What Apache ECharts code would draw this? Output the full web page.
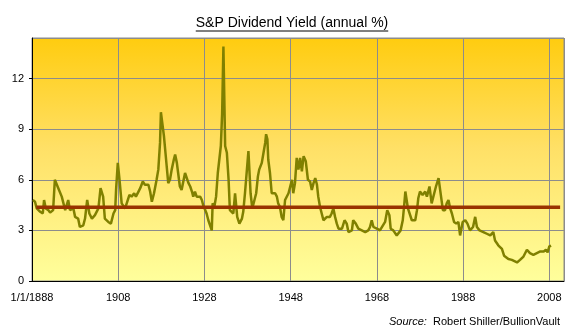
<!DOCTYPE html>
<html>
<head>
<meta charset="utf-8">
<script src="https://cdn.jsdelivr.net/npm/echarts@6/dist/echarts.min.js"></script>
<style>
  html, body { margin: 0; padding: 0; background: #fff; }
  #chart { width: 579px; height: 332px; }
</style>
</head>
<body>
<div id="chart"></div>
<script>
// S&P 500 dividend yield, annual %, by (fractional) year
const years = [
  1888.2, 1888.7, 1889.1, 1889.9, 1890.5, 1890.8, 1891.2, 1891.8, 1892.2, 1892.9,
  1893.3, 1894.1, 1894.9, 1895.3, 1895.7, 1896.1, 1896.4, 1896.8, 1897.6, 1898.0,
  1898.7, 1899.1, 1899.9, 1900.3, 1900.8, 1901.3, 1901.9, 1902.6, 1903.4, 1903.9,
  1904.5, 1904.9, 1905.7, 1906.3, 1906.9, 1907.3, 1907.5, 1907.9, 1908.3, 1908.8,
  1909.6, 1910.0, 1910.6, 1911.1, 1911.7, 1912.1, 1912.7, 1913.1, 1913.7, 1914.2,
  1915.0, 1915.4, 1915.8, 1916.3, 1916.9, 1917.3, 1917.7, 1917.9, 1918.3, 1918.6,
  1919.1, 1919.4, 1919.6, 1920.0, 1920.4, 1920.9, 1921.2, 1921.6, 1921.9, 1922.3,
  1922.7, 1923.1, 1923.5, 1923.9, 1924.3, 1924.7, 1925.1, 1925.4, 1925.8, 1926.2,
  1926.6, 1927.0, 1927.4, 1927.7, 1928.1, 1928.5, 1928.9, 1929.3, 1929.7, 1929.9,
  1930.3, 1930.7, 1931.1, 1931.5, 1931.8, 1932.1, 1932.4, 1932.6, 1932.8, 1933.2,
  1933.4, 1933.6, 1933.9, 1934.3, 1934.7, 1935.1, 1935.3, 1935.6, 1936.1, 1936.7,
  1937.0, 1937.4, 1937.8, 1938.2, 1938.4, 1938.7, 1939.1, 1939.5, 1940.0, 1940.4,
  1940.7, 1941.3, 1941.7, 1942.1, 1942.3, 1942.6, 1942.8, 1943.2, 1943.6, 1944.0,
  1944.4, 1944.8, 1945.1, 1945.5, 1945.9, 1946.3, 1946.7, 1947.1, 1947.5, 1947.9,
  1948.3, 1948.6, 1949.0, 1949.4, 1949.8, 1950.2, 1950.6, 1951.0, 1951.5, 1952.0,
  1952.5, 1952.9, 1953.3, 1953.7, 1954.1, 1954.4, 1954.8, 1955.2, 1955.6, 1956.4,
  1957.1, 1957.5, 1957.9, 1958.3, 1958.7, 1959.1, 1959.9, 1960.5, 1961.0, 1961.4,
  1962.2, 1962.5, 1963.1, 1963.7, 1964.5, 1965.3, 1966.0, 1966.4, 1966.8, 1967.2,
  1968.0, 1968.7, 1969.9, 1970.4, 1970.9, 1971.2, 1971.8, 1972.6, 1973.0, 1973.5,
  1974.0, 1974.3, 1974.6, 1974.9, 1975.2, 1975.5, 1976.1, 1976.9, 1977.3, 1977.6,
  1978.0, 1978.6, 1979.2, 1979.6, 1980.2, 1980.7, 1981.3, 1981.7, 1982.3, 1982.7,
  1983.1, 1983.3, 1983.8, 1984.2, 1984.6, 1985.0, 1985.4, 1985.9, 1986.4, 1986.9,
  1987.3, 1987.7, 1987.9, 1988.5, 1989.0, 1989.6, 1990.3, 1990.8, 1991.2, 1991.8,
  1992.7, 1993.5, 1994.3, 1995.0, 1995.4, 1996.2, 1997.0, 1997.5, 1998.5, 1999.3,
  2000.5, 2001.2, 2002.0, 2002.8, 2003.5, 2004.3, 2005.1, 2005.9, 2006.7, 2007.2,
  2007.6, 2008.0, 2008.4
];
const yields = [
  4.8, 4.7, 4.3, 4.1, 4.0, 4.8, 4.3, 4.2, 4.05, 4.2,
  6.0, 5.5, 5.0, 4.9, 4.2, 4.3, 4.8, 4.2, 4.3, 3.8,
  3.7, 3.2, 3.3, 3.7, 4.8, 4.0, 3.7, 3.9, 4.3, 5.5,
  5.0, 3.7, 3.5, 3.4, 4.0, 4.2, 5.4, 7.0, 6.0, 4.6,
  4.3, 4.3, 5.1, 5.0, 5.2, 5.0, 5.3, 5.5, 5.9, 5.7,
  5.7, 5.3, 4.7, 5.2, 6.0, 6.6, 8.2, 10.0, 9.9, 8.6,
  7.2, 7.1, 5.8, 6.0, 6.6, 7.2, 7.5, 7.0, 6.4, 5.6,
  5.4, 5.5, 6.4, 6.4, 5.8, 5.6, 5.3, 5.0, 5.3, 5.0,
  5.05, 5.0, 4.8, 4.5, 4.4, 4.0, 3.6, 3.5, 3.0, 4.6,
  4.4, 5.0, 6.4, 6.3, 8.0, 9.9, 13.9, 13.9, 8.0, 7.6,
  7.7, 6.0, 4.2, 4.3, 4.0, 5.2, 5.3, 3.8, 3.4, 3.7,
  4.1, 5.2, 5.3, 7.7, 7.8, 5.2, 4.3, 4.4, 5.2, 6.2,
  6.6, 7.0, 7.6, 8.2, 8.7, 8.4, 7.2, 6.4, 5.2, 5.3,
  5.2, 5.0, 4.6, 4.4, 3.8, 3.6, 4.8, 4.8, 5.2, 5.6,
  6.0, 5.2, 5.8, 7.3, 6.6, 7.3, 6.5, 7.4, 7.1, 6.0,
  5.9, 5.4, 5.8, 6.1, 5.7, 5.0, 4.4, 4.0, 3.6, 3.8,
  3.8, 4.0, 4.3, 3.8, 3.4, 3.1, 3.1, 3.6, 3.4, 2.9,
  3.0, 3.6, 3.4, 3.1, 3.0, 2.9, 3.0, 3.2, 3.6, 3.2,
  3.1, 3.0, 3.5, 4.2, 3.9, 3.1, 3.0, 2.7, 2.67, 3.0,
  3.6, 4.4, 5.3, 5.2, 4.3, 4.2, 3.6, 3.6, 4.2, 4.9,
  5.3, 5.1, 5.3, 5.0, 5.6, 4.6, 5.2, 5.6, 6.1, 6.0,
  4.6, 4.2, 4.2, 4.6, 4.8, 4.3, 4.0, 3.5, 3.4, 3.5,
  2.7, 2.6, 3.5, 3.6, 3.4, 3.0, 3.2, 3.8, 3.2, 3.0,
  2.9, 2.8, 2.7, 2.9, 2.4, 2.1, 1.9, 1.5, 1.3, 1.25,
  1.1, 1.25, 1.45, 1.85, 1.65, 1.55, 1.65, 1.75, 1.75, 1.85,
  1.7, 2.05, 2.1
];

// Long-run average yield, drawn as a flat reference line
const averageYield = 4.37;
const averageSpan = [1889.0, 2010.5];

// Axis ranges and tick labels
const xRange = [1888, 2011.4];
const xTickYears = [1888, 1908, 1928, 1948, 1968, 1988, 2008];
const firstTickLabel = '1/1/1888';
const yRange = [0, 14.4];
const yTickValues = [0, 3, 6, 9, 12];

const titleText = 'S&P Dividend Yield (annual %)';
const FONT = '"Liberation Sans", Arial, sans-serif';
const TITLE_FONT_SIZE = 14;

const chart = echarts.init(document.getElementById('chart'), null, { renderer: 'canvas' });

// title width, used for its underline
const titleWidth = echarts.format.getTextRect
  ? echarts.format.getTextRect(titleText, TITLE_FONT_SIZE + 'px ' + FONT).width
  : (function () {
      const ctx = document.createElement('canvas').getContext('2d');
      ctx.font = TITLE_FONT_SIZE + 'px ' + FONT;
      return ctx.measureText(titleText).width;
    })();
const titleCenterX = 292;

const option = {
  backgroundColor: '#ffffff',
  animation: false,
  title: {
    text: '{i|Source:}  Robert Shiller/BullionVault',
    right: 14,
    top: 311,
    textStyle: {
      fontFamily: FONT, fontSize: 11, fontWeight: 'normal', color: '#000',
      rich: { i: { fontFamily: FONT, fontSize: 11, fontStyle: 'italic', color: '#000' } }
    }
  },
  graphic: [
    {
      type: 'text',
      x: titleCenterX,
      y: 23.5,
      style: {
        text: titleText,
        align: 'center',
        verticalAlign: 'middle',
        font: TITLE_FONT_SIZE + 'px ' + FONT,
        fill: '#000'
      }
    },
    {
      type: 'line',
      shape: { x1: titleCenterX - titleWidth / 2, y1: 31, x2: titleCenterX + titleWidth / 2, y2: 31 },
      style: { stroke: '#000', lineWidth: 1 }
    }
  ],
  grid: {
    left: 32, right: 15, top: 38, bottom: 51,
    show: true,
    borderColor: '#8c8c8c',
    borderWidth: 1,
    backgroundColor: new echarts.graphic.LinearGradient(0, 0, 0, 1, [
      { offset: 0, color: '#FFCC0F' },
      { offset: 0.45, color: '#FFE066' },
      { offset: 1, color: '#FFFF9C' }
    ])
  },
  xAxis: {
    type: 'value',
    min: xRange[0],
    max: xRange[1],
    interval: 20,
    axisLine: { show: true, onZero: false, lineStyle: { color: '#000', width: 1 } },
    axisTick: { show: false },
    splitLine: { show: true, lineStyle: { color: '#8c8c8c', width: 1 } },
    axisLabel: {
      margin: 11,
      fontFamily: FONT, fontSize: 11, color: '#000',
      showMaxLabel: false,
      formatter: function (v) {
        if (Math.abs(v - xTickYears[0]) < 1e-6) return firstTickLabel;
        return xTickYears.indexOf(Math.round(v)) >= 0 && Math.abs(v - Math.round(v)) < 1e-6 ? String(Math.round(v)) : '';
      }
    }
  },
  yAxis: {
    type: 'value',
    min: yRange[0],
    max: yRange[1],
    interval: 3,
    axisLine: { show: true, lineStyle: { color: '#000', width: 1 } },
    axisTick: { show: true, length: 3, lineStyle: { color: '#000' } },
    splitLine: { show: true, lineStyle: { color: '#8c8c8c', width: 1 } },
    axisLabel: {
      margin: 8,
      fontFamily: FONT, fontSize: 11, color: '#000',
      showMaxLabel: false,
      formatter: function (v) {
        return yTickValues.indexOf(v) >= 0 ? String(v) : '';
      }
    }
  },
  series: [
    {
      name: 'Dividend yield',
      type: 'line',
      data: years.map((y, i) => [y, yields[i]]),
      showSymbol: false,
      lineStyle: { color: '#808000', width: 2.5 },
      z: 3
    },
    {
      name: 'Average',
      type: 'line',
      data: averageSpan.map(y => [y, averageYield]),
      showSymbol: false,
      lineStyle: { color: '#993300', width: 3.5 },
      z: 4
    }
  ]
};

chart.setOption(option);
</script>
</body>
</html>
